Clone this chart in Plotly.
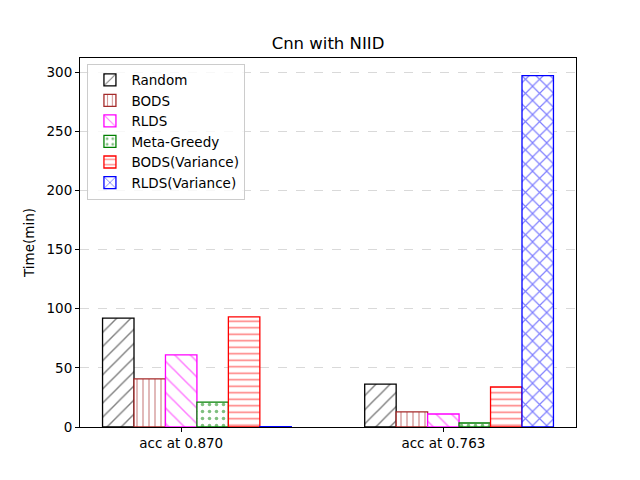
import plotly.graph_objects as go

categories = ["acc at 0.870", "acc at 0.763"]
series_names = ["Random", "BODS", "RLDS", "Meta-Greedy", "BODS(Variance)", "RLDS(Variance)"]
random_vals = [92.0, 36.3]
bods_vals = [40.6, 12.7]
rlds_vals = [60.9, 11.0]
meta_greedy_vals = [21.1, 3.4]
bods_var_vals = [93.0, 33.8]
rlds_var_vals = [0.3, 297.0]
all_vals = [random_vals, bods_vals, rlds_vals, meta_greedy_vals, bods_var_vals, rlds_var_vals]

colors = ["#000000", "#a52a2a", "#ff00ff", "#008000", "#ff0000", "#0000ff"]
shapes = ["/", "|", "\\", ".", "-", "x"]
sizes = [10, 6, 11, 7, 6.5, 10]
solid = [0.14, 0.22, 0.14, 0.2, 0.24, 0.22]

W = 0.12
FONT = "DejaVu Sans"

fig = go.Figure()
for i, (name, vals) in enumerate(zip(series_names, all_vals)):
    fig.add_trace(go.Bar(
        name=name, x=categories, y=vals,
        width=W, offset=(i - 2.5) * W,
        marker=dict(
            color="white",
            line=dict(color=colors[i], width=1.3),
            pattern=dict(shape=shapes[i], fgcolor=colors[i], bgcolor="white",
                         size=sizes[i], solidity=solid[i], fillmode="overlay"),
        ),
    ))

fig.update_layout(
    width=640, height=480,
    barmode="overlay",
    paper_bgcolor="white", plot_bgcolor="white",
    margin=dict(l=72, r=72, t=50, b=61),
    font=dict(family=FONT, size=13.5, color="black"),
    title=dict(text="Cnn with NIID", x=0.5, xanchor="center", y=1 - 35 / 480, yanchor="middle",
               font=dict(size=16.5, family=FONT)),
    showlegend=True,
    legend=dict(x=0.015, y=0.985, xanchor="left", yanchor="top",
                bgcolor="rgba(255,255,255,0.8)", bordercolor="#cccccc", borderwidth=1,
                font=dict(size=13.5, family=FONT), tracegroupgap=0, itemwidth=33),
)
fig.update_xaxes(
    type="category", range=[-0.386, 1.506],
    showline=True, linecolor="black", linewidth=1, mirror=True,
    ticks="outside", ticklen=4, tickcolor="black", showgrid=False,
)
fig.update_yaxes(
    range=[0, 311.9], tickvals=[0, 50, 100, 150, 200, 250, 300],
    showline=True, linecolor="black", linewidth=1, mirror=True,
    ticks="outside", ticklen=4, tickcolor="black",
    showgrid=True, gridcolor="#d9d9d9", griddash="dash", gridwidth=0.8,
    zeroline=False,
    title=dict(text="Time(min)", font=dict(size=13.5, family=FONT), standoff=8),
)

fig.write_html("out.html")
